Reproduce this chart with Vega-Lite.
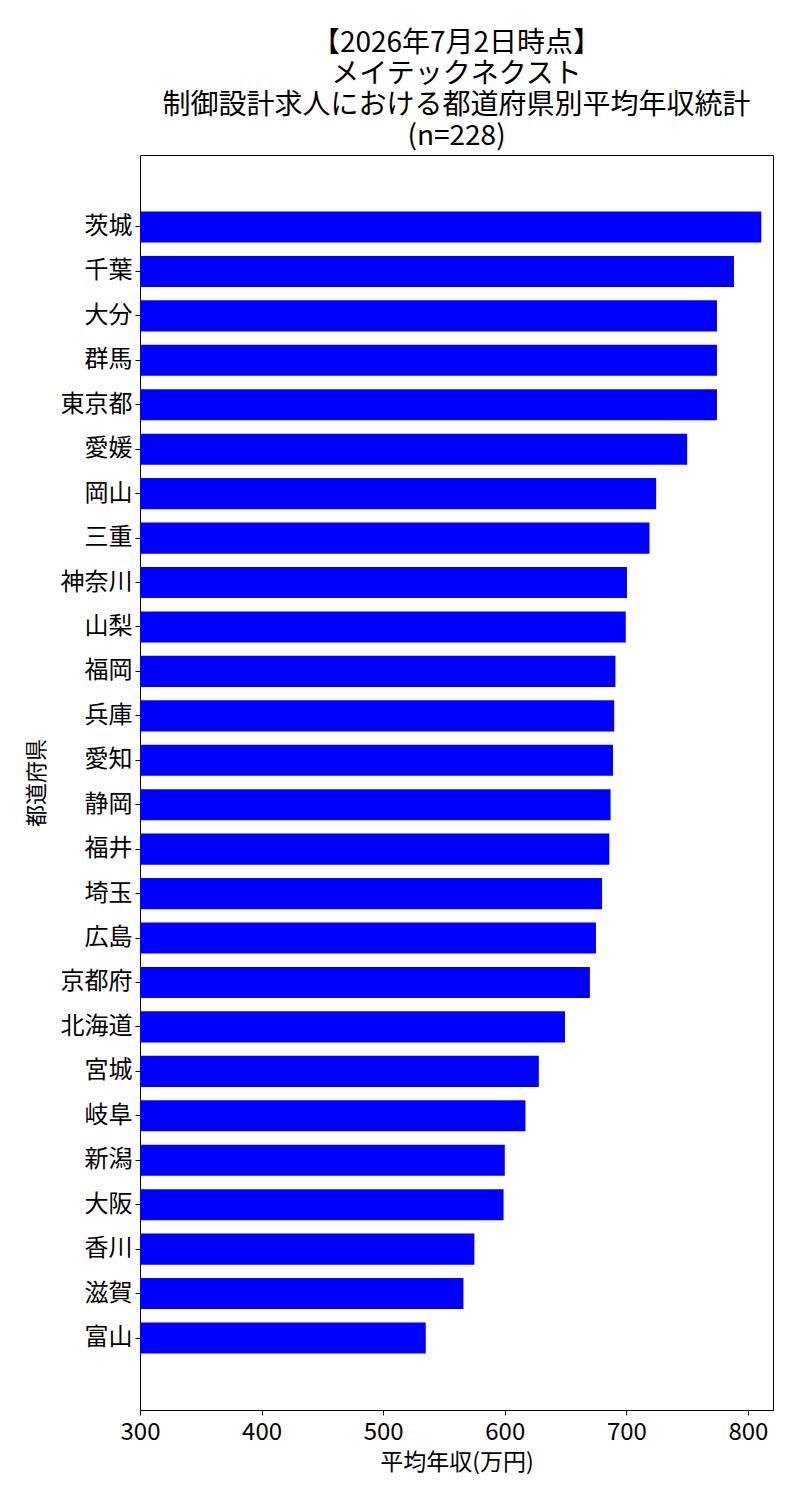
{
  "$schema": "https://vega.github.io/schema/vega-lite/v6.json",
  "autosize": {"type": "none"},
  "padding": {"left": 140, "top": 155, "right": 27, "bottom": 90},
  "width": 633,
  "height": 1255,
  "background": "white",
  "title": {
    "text": ["【2026年7月2日時点】", "メイテックネクスト", "制御設計求人における都道府県別平均年収統計", "(n=228)"],
    "anchor": "middle",
    "frame": "group",
    "font": "Noto Sans CJK JP",
    "fontSize": 28,
    "fontWeight": "normal",
    "lineHeight": 31,
    "color": "black",
    "offset": 4
  },
  "config": {
    "view": {"stroke": "black", "strokeWidth": 1},
    "font": "Noto Sans CJK JP",
    "axis": {
      "grid": false,
      "domainColor": "black",
      "tickColor": "black",
      "labelColor": "black",
      "titleColor": "black",
      "labelFont": "Noto Sans CJK JP",
      "titleFont": "Noto Sans CJK JP",
      "titleFontWeight": "normal",
      "tickSize": 5
    }
  },
  "data": {
    "values": [
      {"pref": "茨城", "salary": 811},
      {"pref": "千葉", "salary": 788.5},
      {"pref": "大分", "salary": 774.5},
      {"pref": "群馬", "salary": 774.5},
      {"pref": "東京都", "salary": 774.5},
      {"pref": "愛媛", "salary": 750},
      {"pref": "岡山", "salary": 724.5},
      {"pref": "三重", "salary": 719},
      {"pref": "神奈川", "salary": 700.5},
      {"pref": "山梨", "salary": 699.5},
      {"pref": "福岡", "salary": 691},
      {"pref": "兵庫", "salary": 690},
      {"pref": "愛知", "salary": 689},
      {"pref": "静岡", "salary": 687},
      {"pref": "福井", "salary": 686},
      {"pref": "埼玉", "salary": 680},
      {"pref": "広島", "salary": 675},
      {"pref": "京都府", "salary": 670},
      {"pref": "北海道", "salary": 649.5},
      {"pref": "宮城", "salary": 628},
      {"pref": "岐阜", "salary": 617},
      {"pref": "新潟", "salary": 600},
      {"pref": "大阪", "salary": 599},
      {"pref": "香川", "salary": 575},
      {"pref": "滋賀", "salary": 566},
      {"pref": "富山", "salary": 535}
    ]
  },
  "mark": {"type": "bar", "color": "#0000ff", "clip": true},
  "encoding": {
    "y": {
      "field": "pref",
      "type": "nominal",
      "sort": null,
      "title": "都道府県",
      "scale": {"paddingInner": 0.3, "paddingOuter": 1, "range": [12, 1243]},
      "axis": {
        "labelFontSize": 24,
        "titleFontSize": 22,
        "labelPadding": 3,
        "titlePadding": 12
      }
    },
    "x": {
      "field": "salary",
      "type": "quantitative",
      "title": "平均年収(万円)",
      "scale": {"domain": [300, 820.6], "nice": false, "zero": false},
      "axis": {
        "values": [300, 400, 500, 600, 700, 800],
        "labelFlush": false,
        "labelFontSize": 24,
        "titleFontSize": 23,
        "labelPadding": 5,
        "titlePadding": 7
      }
    }
  }
}
